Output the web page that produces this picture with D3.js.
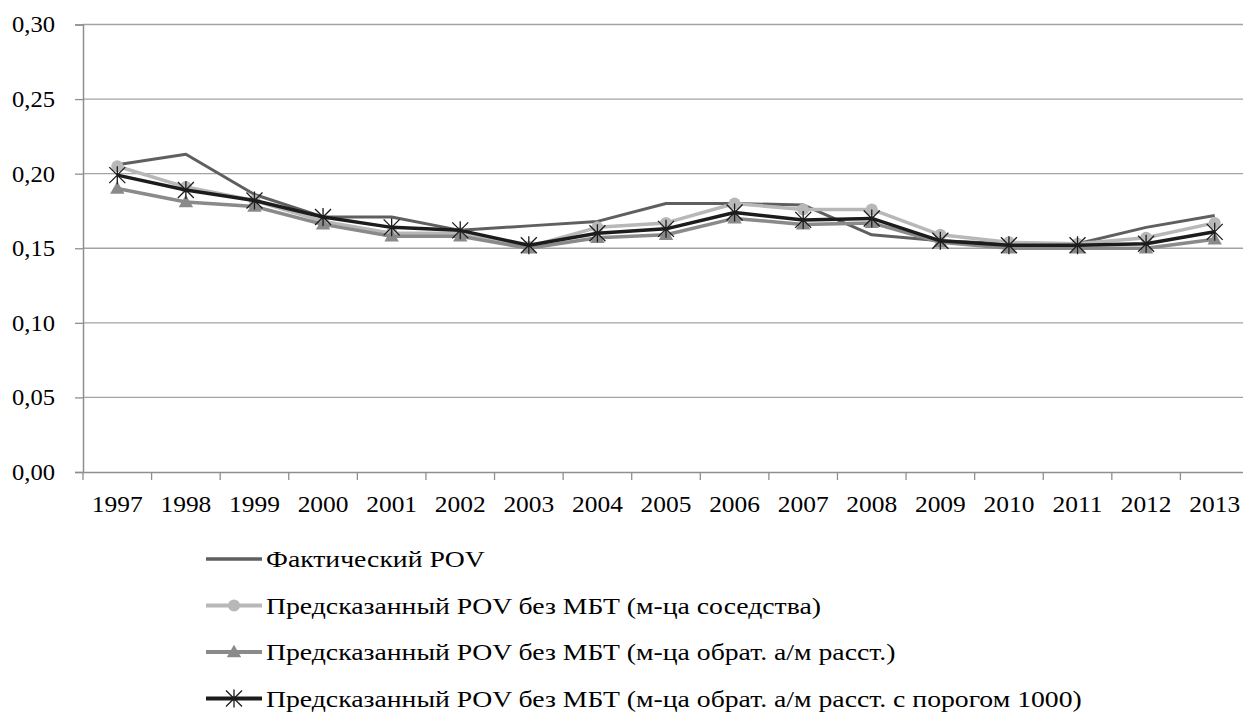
<!DOCTYPE html>
<html>
<head>
<meta charset="utf-8">
<script src="https://cdn.jsdelivr.net/npm/d3@7"></script>
<style>
  body { margin: 0; background: #fff; }
</style>
</head>
<body>
<div id="chart"></div>
<script>
var years = ["1997","1998","1999","2000","2001","2002","2003","2004","2005","2006","2007","2008","2009","2010","2011","2012","2013"];
var yTicks = [0, 0.05, 0.10, 0.15, 0.20, 0.25, 0.30];

var factPov      = [0.206,0.213,0.186,0.171,0.171,0.162,0.165,0.168,0.180,0.180,0.179,0.159,0.155,0.153,0.153,0.164,0.172];
var predNeighbor = [0.205,0.191,0.182,0.168,0.160,0.160,0.151,0.164,0.167,0.180,0.176,0.176,0.159,0.154,0.153,0.157,0.167];
var predInvDist  = [0.190,0.181,0.178,0.166,0.158,0.158,0.150,0.157,0.159,0.170,0.166,0.167,0.154,0.150,0.150,0.150,0.156];
var predThresh   = [0.199,0.189,0.182,0.171,0.164,0.162,0.152,0.160,0.163,0.174,0.169,0.170,0.155,0.152,0.152,0.153,0.161];

var seriesNames = [
  "Фактический POV",
  "Предсказанный POV без МБТ (м-ца соседства)",
  "Предсказанный POV без МБТ (м-ца обрат. а/м расст.)",
  "Предсказанный POV без МБТ (м-ца обрат. а/м расст. с порогом 1000)"
];

var series = [
  { name: seriesNames[0], values: factPov,      color: "#5f5f5f", width: 3,   marker: "none" },
  { name: seriesNames[1], values: predNeighbor, color: "#b8b8b8", width: 3.5, marker: "circle" },
  { name: seriesNames[2], values: predInvDist,  color: "#8a8a8a", width: 3.5, marker: "triangle" },
  { name: seriesNames[3], values: predThresh,   color: "#1c1c1c", width: 3.5, marker: "star" }
];

var FONT = "'Liberation Serif', 'Times New Roman', serif";
var W = 1243, H = 713;
var svg = d3.select("#chart").append("svg").attr("width", W).attr("height", H)
  .style("font-family", FONT);

var x = d3.scaleBand().domain(years).range([83, 1249]);
var y = d3.scaleLinear().domain([0, 0.30]).range([472, 24.5]);
var fmt = function(d) { return d3.format(".2f")(d).replace(".", ","); };

// gridlines
svg.append("g").selectAll("line").data(yTicks.slice(1)).enter().append("line")
  .attr("x1", 83).attr("x2", W).attr("y1", d => y(d)).attr("y2", d => y(d))
  .attr("stroke", "#a3a3a3").attr("stroke-width", 1.3);

// y axis
var yAxis = svg.append("g").attr("transform", "translate(83,0)")
  .call(d3.axisLeft(y).tickValues(yTicks).tickFormat(fmt).tickSize(8).tickPadding(20));
yAxis.attr("font-family", null).attr("font-size", null);
yAxis.select(".domain").attr("stroke", "#8f8f8f").attr("stroke-width", 1.5);
yAxis.selectAll(".tick line").attr("stroke", "#8f8f8f").attr("stroke-width", 1.3);
yAxis.selectAll(".tick text").style("font-family", FONT).style("font-size", "23px")
  .attr("fill", "#000").attr("x", -28 / 1.07).attr("transform", "scale(1.07,1)");

// x axis
var xAxis = svg.append("g").attr("transform", "translate(0,472)")
  .call(d3.axisBottom(x).tickSize(0).tickPadding(23));
xAxis.attr("font-family", null).attr("font-size", null);
xAxis.select(".domain").attr("stroke", "#8f8f8f").attr("stroke-width", 1.5);
xAxis.selectAll(".tick text").style("font-family", FONT).style("font-size", "24px")
  .attr("fill", "#000").attr("transform", "scale(1.06,1)");
svg.append("g").selectAll("line").data(years).enter().append("line")
  .attr("x1", d => x(d)).attr("x2", d => x(d)).attr("y1", 472).attr("y2", 480)
  .attr("stroke", "#8f8f8f").attr("stroke-width", 1.3);

var cx = function(i) { return x(years[i]) + x.bandwidth() / 2; };

function drawMarker(g, type, color, px, py) {
  if (type === "circle") {
    g.append("circle").attr("cx", px).attr("cy", py).attr("r", 6).attr("fill", color);
  } else if (type === "triangle") {
    g.append("path").attr("d", d3.symbol().type(d3.symbolTriangle).size(90)())
      .attr("transform", "translate(" + px + "," + (py + 1) + ")").attr("fill", color);
  } else if (type === "star") {
    var s = 8;
    g.append("path")
      .attr("d", "M" + (px - s) + "," + (py - s) + "L" + (px + s) + "," + (py + s) +
                 "M" + (px - s) + "," + (py + s) + "L" + (px + s) + "," + (py - s) +
                 "M" + px + "," + (py - s - 1) + "L" + px + "," + (py + s + 1))
      .attr("stroke", color).attr("stroke-width", 1.3).attr("fill", "none");
  }
}

var line = d3.line().x((d, i) => cx(i)).y(d => y(d));

series.forEach(function(s) {
  var g = svg.append("g");
  g.append("path").datum(s.values).attr("d", line)
    .attr("fill", "none").attr("stroke", s.color).attr("stroke-width", s.width)
    .attr("stroke-linejoin", "round");
  s.values.forEach(function(v, i) { drawMarker(g, s.marker, s.color, cx(i), y(v)); });
});

// legend
var legend = svg.append("g");
series.forEach(function(s, i) {
  var ly = 559 + i * 46.5;
  legend.append("line").attr("x1", 206).attr("x2", 262).attr("y1", ly).attr("y2", ly)
    .attr("stroke", s.color).attr("stroke-width", s.width + 0.5);
  drawMarker(legend, s.marker, s.color, 234, ly);
  legend.append("g").attr("transform", "translate(266," + ly + ") scale(1.155,1)")
    .append("text").attr("dy", "0.35em")
    .style("font-family", FONT).style("font-size", "24px").attr("fill", "#000").text(s.name);
});
</script>
</body>
</html>
